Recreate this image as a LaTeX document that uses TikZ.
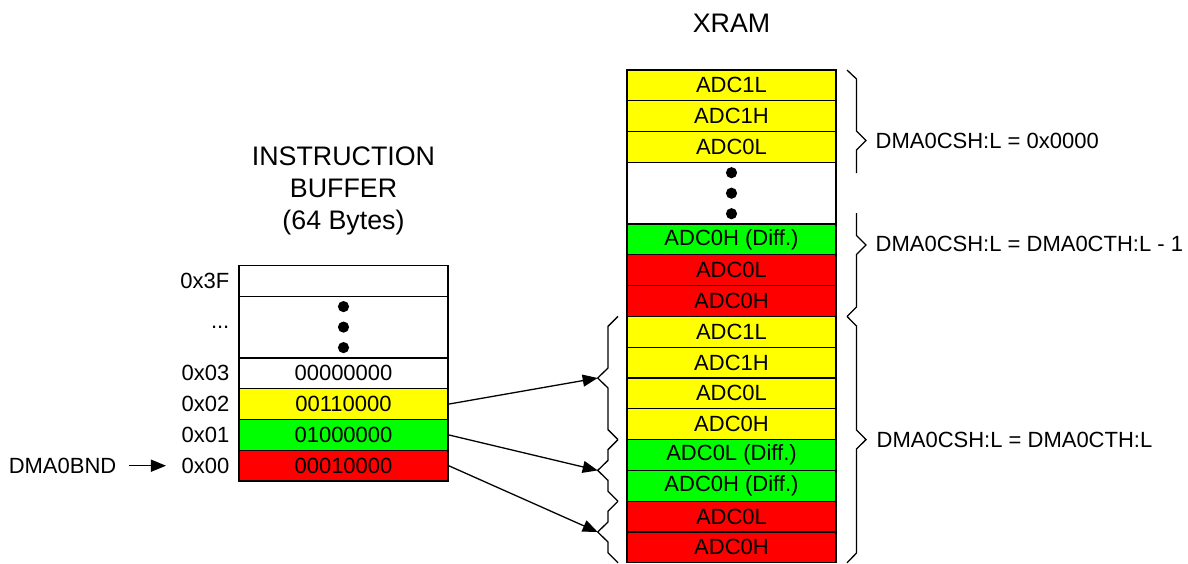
\documentclass[tikz,border=0pt]{standalone}
\usepackage{fontspec}
\setmainfont{Liberation Sans}
\usetikzlibrary{arrows.meta}
\definecolor{celly}{RGB}{255,255,0}
\definecolor{cellg}{RGB}{0,255,0}
\definecolor{cellr}{RGB}{255,0,0}
\begin{document}
\begin{tikzpicture}[x=0.5pt, y=-0.5pt, line width=0.65pt, >={Triangle[length=7.5pt,width=6pt]},
cell/.style={draw, minimum width=104.5pt, minimum height=15.4pt, inner sep=0pt, font=\fontsize{11}{13}\selectfont},
tall cell/.style={cell, minimum height=30.8pt},
addr/.style={anchor=east, inner sep=0pt, font=\fontsize{11}{13}\selectfont},
csh/.style={anchor=west, inner sep=0pt, font=\fontsize{11}{13}\selectfont},
title/.style={align=center, font=\fontsize{13.4}{15.9}\selectfont}]
\useasboundingbox (0,0) rectangle (1188,563);
% titles
\node[title] (xramtitle) at (731.5,23) {XRAM};
\node[title] (buftitle) at (343.5,191) {INSTRUCTION\\BUFFER\\(64 Bytes)};
% instruction buffer
\begin{scope}
\node[cell] (b3f) at (343.5,280.9) {};
\node[tall cell] (bdots) at (343.5,327.1) {};
\node[cell] (b03) at (343.5,373.3) {00000000};
\node[cell, fill=celly] (b02) at (343.5,404.1) {00110000};
\node[cell, fill=cellg] (b01) at (343.5,434.9) {01000000};
\node[cell, fill=cellr] (b00) at (343.5,465.7) {00010000};
\foreach \d in {-20.5,0,20.5}
  \fill (343.5,{327.1+\d}) circle[radius=2.8pt];
\end{scope}
% addresses
\node[addr] (a3f) at (230,280.9) {0x3F};
\node[addr] (adots) at (230,327.1) {...};
\node[addr] (a03) at (230,373.3) {0x03};
\node[addr] (a02) at (230,404.1) {0x02};
\node[addr] (a01) at (230,434.9) {0x01};
\node[addr] (a00) at (230,465.7) {0x00};
\node[addr] (dmabnd) at (117,465.7) {DMA0BND};
\draw[->, shorten <=6pt, shorten >=7.5pt] (dmabnd.east) -- (a00.west);
% xram
\begin{scope}
\foreach \k/\col/\txt in {0/celly/ADC1L, 1/celly/ADC1H, 2/celly/ADC0L,
  5/cellg/ADC0H (Diff.), 6/cellr/ADC0L, 7/cellr/ADC0H,
  8/celly/ADC1L, 9/celly/ADC1H, 10/celly/ADC0L, 11/celly/ADC0H,
  12/cellg/ADC0L (Diff.), 13/cellg/ADC0H (Diff.), 14/cellr/ADC0L, 15/cellr/ADC0H}
  \node[cell, fill=\col] (x\k) at (731.5,{85.4+30.8*\k}) {\txt};
\node[tall cell] (xdots) at (731.5,193.2) {};
\foreach \d in {-20.5,0,20.5}
  \fill (731.5,{193.2+\d}) circle[radius=2.8pt];
\end{scope}
% braces left of xram
\coordinate (tip1) at (597.7,378);
\coordinate (tip2) at (597.7,470.4);
\coordinate (tip3) at (597.7,532);
\draw (618,316.4) -- (608,326.4) -- (608,368) -- (tip1) -- (608,388) -- (608,429.6) -- (618,439.6);
\draw (618,439.6) -- (608,449.6) -- (608,460.4) -- (tip2) -- (608,480.4) -- (608,491.2) -- (618,501.2);
\draw (618,501.2) -- (608,511.2) -- (608,522) -- (tip3) -- (608,542) -- (608,552.8) -- (618,562.8);
\draw[->] (b02.east) -- (tip1);
\draw[->] (b01.east) -- (tip2);
\draw[->] (b00.east) -- (tip3);
% braces right of xram
\draw (847,70) -- (856.5,79) -- (856.5,131) -- (866,140.5) -- (856.5,150) -- (856.5,173);
\draw (856.5,213) -- (856.5,235.5) -- (866,245) -- (856.5,254.5) -- (856.5,307) -- (847,316.4);
\draw (847,316.4) -- (856.5,326) -- (856.5,430) -- (866,439.6) -- (856.5,449) -- (856.5,553) -- (847,562.8);
\node[csh] (csh1) at (875,141) {DMA0CSH:L = 0x0000};
\node[csh] (csh2) at (875,244) {DMA0CSH:L = DMA0CTH:L - 1};
\node[csh] (csh3) at (876,440) {DMA0CSH:L = DMA0CTH:L};
\end{tikzpicture}
\end{document}
